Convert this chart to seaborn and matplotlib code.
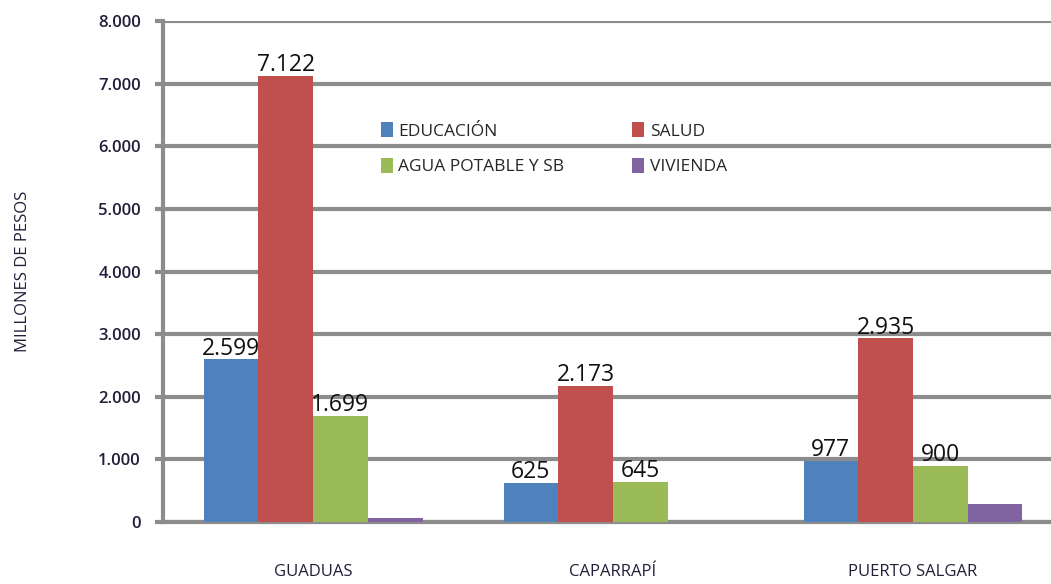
import pandas as pd
import matplotlib.pyplot as plt
import seaborn as sns

municipios = ['GUADUAS', 'CAPARRAPÍ', 'PUERTO SALGAR']
sectores = ['EDUCACIÓN', 'SALUD', 'AGUA POTABLE Y SB', 'VIVIENDA']
educacion = [2599, 625, 977]
salud = [7122, 2173, 2935]
agua = [1699, 645, 900]
vivienda = [60, 0, 290]
colores = ['#4F81BD', '#C0504D', '#9BBB59', '#8064A2']
yticks = [0, 1000, 2000, 3000, 4000, 5000, 6000, 7000, 8000]

sns.set_theme(style='white')
plt.rcParams['font.family'] = ['Open Sans', 'DejaVu Sans']


def miles(v):
    return f'{int(v):,}'.replace(',', '.')


rows = []
for serie, vals in zip(sectores, [educacion, salud, agua, vivienda]):
    for m, v in zip(municipios, vals):
        rows.append({'municipio': m, 'sector': serie, 'valor': v})
df = pd.DataFrame(rows)

gris = '#8c8c8c'
fig = plt.figure(figsize=(10.51, 5.84), dpi=100)
ax = fig.add_axes([163 / 1051, 62 / 584, 900 / 1051, 501 / 584])
sns.barplot(data=df, x='municipio', y='valor', hue='sector', order=municipios,
            hue_order=sectores, palette=colores, width=0.73, gap=0,
            saturation=1, linewidth=0, ax=ax, zorder=3)

ax.set_xlim(-0.5, 2.5)
ax.set_ylim(0, 8000)
ax.set_yticks(yticks)
ax.set_yticklabels([miles(t) for t in yticks], fontsize=12, color='#1f1f3a', fontweight='semibold')
ax.yaxis.grid(True, color=gris, linewidth=3, zorder=0)
ax.set_axisbelow(True)
for s in ['top', 'right']:
    ax.spines[s].set_visible(False)
for s in ['left', 'bottom']:
    ax.spines[s].set_color(gris)
    ax.spines[s].set_linewidth(3)
ax.tick_params(axis='y', direction='out', length=6, width=3, color=gris, pad=10, left=True)
ax.set_xticks([0, 1, 2])
ax.set_xticklabels(municipios, fontsize=12, color='#1f1f3a')
ax.tick_params(axis='x', length=0, pad=30)
ax.set_xticks([0.5, 1.5], minor=True)
ax.tick_params(axis='x', which='minor', direction='out', length=8, width=3, color=gris)
ax.set_xlabel('')
ax.set_ylabel('MILLONES DE PESOS', fontsize=12, color='#1f1f3a', labelpad=48)

for cont, serie in zip(ax.containers, sectores):
    if serie == 'VIVIENDA':
        continue
    labs = [miles(b.get_height()) if b.get_height() > 0 else '' for b in cont]
    ax.bar_label(cont, labels=labs, fontsize=16.5, color='#111111', padding=-1)

h, l = ax.get_legend_handles_labels()
orden = [0, 2, 1, 3]
ax.legend([h[i] for i in orden], [l[i] for i in orden], ncol=2, frameon=False,
          loc='upper left', bbox_to_anchor=(0.225, 0.83), fontsize=12.5,
          handlelength=0.7, handleheight=1.0, handletextpad=0.3,
          columnspacing=3.9, labelspacing=1.05)

fig.savefig('out.png', dpi=100)
